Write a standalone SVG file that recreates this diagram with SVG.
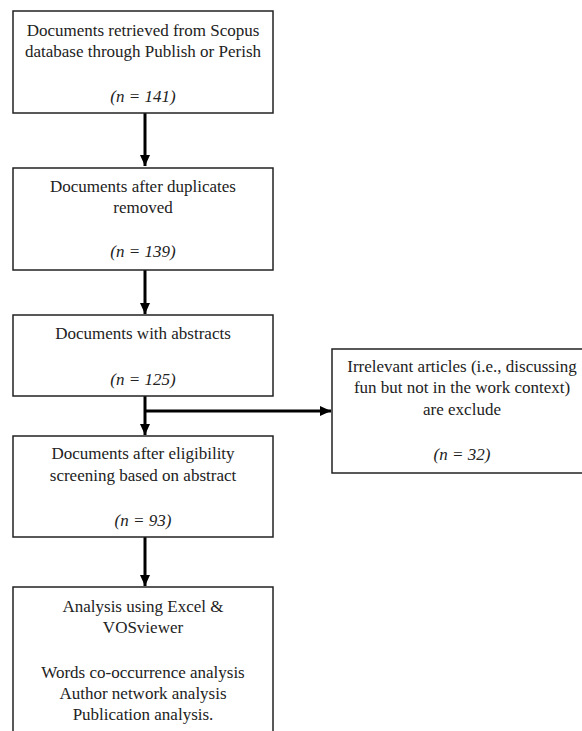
<svg xmlns="http://www.w3.org/2000/svg" width="582" height="731" viewBox="0 0 582 731">
<defs>
<marker id="ah" markerUnits="userSpaceOnUse" markerWidth="12" markerHeight="12" viewBox="0 0 12 12" refX="11" refY="6" orient="auto">
<path d="M0,1 L11,6 L0,11 Z" fill="#000"/>
</marker>
<style>
.box{fill:#fff;stroke:#222;stroke-width:1.5}
.t{font-family:'Liberation Serif','Tinos','Times New Roman','DejaVu Serif',serif;font-size:17px;fill:#222;text-anchor:middle}
.n{font-style:italic}
.c{stroke:#000;stroke-width:3;fill:none}
</style>
</defs>
<rect width="582" height="731" fill="#fff"/>
<g id="connectors">
<line class="c" x1="145" y1="113" x2="145" y2="166" marker-end="url(#ah)"/>
<line class="c" x1="145" y1="270" x2="145" y2="314" marker-end="url(#ah)"/>
<line class="c" x1="145" y1="396" x2="145" y2="435" marker-end="url(#ah)"/>
<line class="c" x1="145" y1="411" x2="331" y2="411" marker-end="url(#ah)"/>
<line class="c" x1="145" y1="537" x2="145" y2="586" marker-end="url(#ah)"/>
</g>
<g id="n1">
<rect class="box" x="13" y="11" width="260" height="102"/>
<text class="t" x="143" y="36">Documents retrieved from Scopus</text>
<text class="t" x="143" y="57">database through Publish or Perish</text>
<text class="t n" x="143" y="102">(n = 141)</text>
</g>
<g id="n2">
<rect class="box" x="13" y="168" width="260" height="102"/>
<text class="t" x="143" y="192">Documents after duplicates</text>
<text class="t" x="143" y="213">removed</text>
<text class="t n" x="143" y="257">(n = 139)</text>
</g>
<g id="n3">
<rect class="box" x="13" y="315" width="260" height="81"/>
<text class="t" x="143" y="339">Documents with abstracts</text>
<text class="t n" x="143" y="385">(n = 125)</text>
</g>
<g id="n4">
<rect class="box" x="13" y="436" width="260" height="101"/>
<text class="t" x="143" y="459">Documents after eligibility</text>
<text class="t" x="143" y="481">screening based on abstract</text>
<text class="t n" x="143" y="526">(n = 93)</text>
</g>
<g id="n5">
<rect class="box" x="13" y="587" width="260" height="160"/>
<text class="t" x="143" y="612">Analysis using Excel &amp;</text>
<text class="t" x="143" y="633">VOSviewer</text>
<text class="t" x="143" y="678">Words co-occurrence analysis</text>
<text class="t" x="143" y="699">Author network analysis</text>
<text class="t" x="143" y="720">Publication analysis.</text>
</g>
<g id="n6">
<rect class="box" x="332" y="349" width="260" height="124"/>
<text class="t" x="462" y="372">Irrelevant articles (i.e., discussing</text>
<text class="t" x="462" y="393">fun but not in the work context)</text>
<text class="t" x="462" y="415">are exclude</text>
<text class="t n" x="462" y="460">(n = 32)</text>
</g>
</svg>
